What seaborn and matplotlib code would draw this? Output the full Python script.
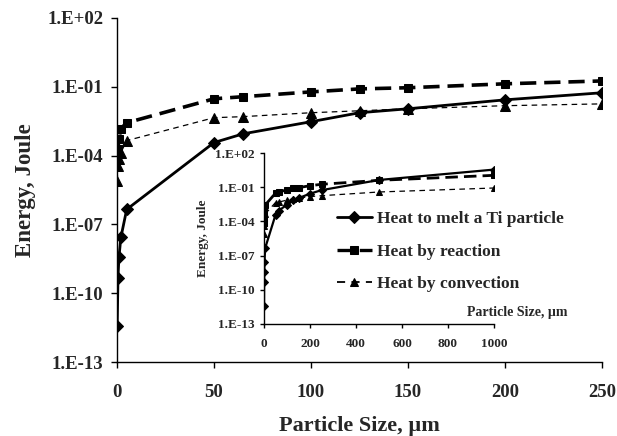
import numpy as np
import pandas as pd
import matplotlib
matplotlib.use("Agg")
import matplotlib.pyplot as plt
from matplotlib.ticker import FuncFormatter, NullLocator, FixedLocator
import seaborn as sns

# ---- data ----
sizes = [0.1, 0.5, 1, 2, 5, 50, 65, 100, 125, 150, 200, 250, 500, 1000]
heat_melt = [3.7e-12, 4.5e-10, 3.7e-9, 2.7e-8, 4.5e-7, 3.7e-4, 8.9e-4,
             3.0e-3, 7.4e-3, 1.1e-2, 2.7e-2, 5.5e-2, 0.43, 3.5]
heat_reaction = [7.4e-5, 2.0e-4, 5.5e-4, 1.5e-3, 2.7e-3, 3.0e-2, 3.7e-2,
                 6.0e-2, 8.1e-2, 9.1e-2, 0.135, 0.18, 0.40, 1.1]
heat_convection = [8.0e-6, 3.7e-5, 7.4e-5, 1.35e-4, 4.5e-4, 4.5e-3, 5.0e-3,
                   7.4e-3, 9.0e-3, 1.1e-2, 1.5e-2, 1.8e-2, 3.8e-2, 8.5e-2]
labels = ["Heat to melt a Ti particle", "Heat by reaction", "Heat by convection"]
main_xticks = [0, 50, 100, 150, 200, 250]
inset_xticks = [0, 200, 400, 600, 800, 1000]
yticks = [1e-13, 1e-10, 1e-7, 1e-4, 1e-1, 1e2]

sns.set_style("ticks")
plt.rcParams['font.family'] = ['Liberation Serif', 'DejaVu Serif']
plt.rcParams['font.weight'] = 'bold'

df = pd.DataFrame({"size": sizes, "melt": heat_melt,
                   "reaction": heat_reaction, "convection": heat_convection})

fig = plt.figure(figsize=(6.17, 4.36), dpi=100)
ax = fig.add_axes([117/617, 1-362/436, 485/617, 344/436])
ax_in = fig.add_axes([264/617, 1-324/436, 230/617, 171/436])
ax_in.patch.set_alpha(0)

styles = [
    dict(col="melt", marker="D", lw=2.0, dash=None, ms=6.5, ms_in=4.0, lw_in=1.6),
    dict(col="reaction", marker="s", lw=2.6, dash=(4.5, 2.2), ms=6.0, ms_in=3.8, lw_in=2.0),
    dict(col="convection", marker="^", lw=0.9, dash=(4.5, 3.5), ms=7.0, ms_in=4.5, lw_in=0.9),
]

def fmt(v, pos):
    e = int(round(np.log10(v)))
    return f"1.E{e:+03d}"

for a, inset in [(ax, False), (ax_in, True)]:
    for st, lab in zip(styles, labels):
        sns.lineplot(data=df, x="size", y=st["col"], ax=a, sort=False,
                     color="black", marker=st["marker"],
                     markersize=st["ms_in"] if inset else st["ms"],
                     markeredgecolor="black", markerfacecolor="black",
                     linewidth=st["lw_in"] if inset else st["lw"],
                     label=lab if inset else None, legend=False, clip_on=True)
        ln = a.lines[-1]
        if st["dash"] is not None:
            ln.set_dashes(st["dash"])
    a.set_yscale("log")
    a.set_ylim(1e-13, 1e2)
    a.yaxis.set_major_locator(FixedLocator(yticks))
    a.yaxis.set_minor_locator(NullLocator())
    a.yaxis.set_major_formatter(FuncFormatter(fmt))
    for s in ["top", "right"]:
        a.spines[s].set_visible(False)
    for s in ["left", "bottom"]:
        a.spines[s].set_color("black")
        a.spines[s].set_linewidth(1.0)

ax.set_xlim(0, 250)
ax.set_xticks(main_xticks)
ax.tick_params(axis="y", labelsize=13.5, length=4, width=1, color="black", pad=6)
ax.tick_params(axis="x", labelsize=13.5, length=4, width=1, color="black", pad=12)
for t in ax.get_xticklabels() + ax.get_yticklabels():
    t.set_fontweight("bold")
ax.set_xlabel("Particle Size, µm", fontsize=16, fontweight="bold", labelpad=10.5)
ax.set_ylabel("Energy, Joule", fontsize=16.5, fontweight="bold", labelpad=8)

ax_in.set_xlim(0, 1000)
ax_in.set_xticks(inset_xticks)
ax_in.tick_params(axis="both", labelsize=9.5, length=3, width=1, color="black", pad=4)
ax_in.tick_params(axis="x", pad=7)
for t in ax_in.get_xticklabels() + ax_in.get_yticklabels():
    t.set_fontweight("bold")
ax_in.set_xlabel("")
ax_in.set_ylabel("Energy, Joule", fontsize=9.5, fontweight="bold", labelpad=4)
ax_in.text(1.10, 0.07, "Particle Size, µm", transform=ax_in.transAxes,
           ha="center", va="center", fontsize=10, fontweight="bold")

handles = [l for l in ax_in.lines]
leg = ax_in.legend(handles=handles, labels=labels, loc="upper left",
                   bbox_to_anchor=(337/617, 1-211/436), bbox_transform=fig.transFigure,
                   frameon=False, fontsize=12.5, handlelength=2.0, handletextpad=0.3,
                   labelspacing=0.95, borderpad=0, borderaxespad=0)
for t in leg.get_texts():
    t.set_fontweight("bold")
for h, st in zip(leg.legend_handles, styles):
    h.set_linewidth(st["lw_in"] + 0.4)
    h.set_markersize(6)

fig.savefig("out.png", dpi=100)
